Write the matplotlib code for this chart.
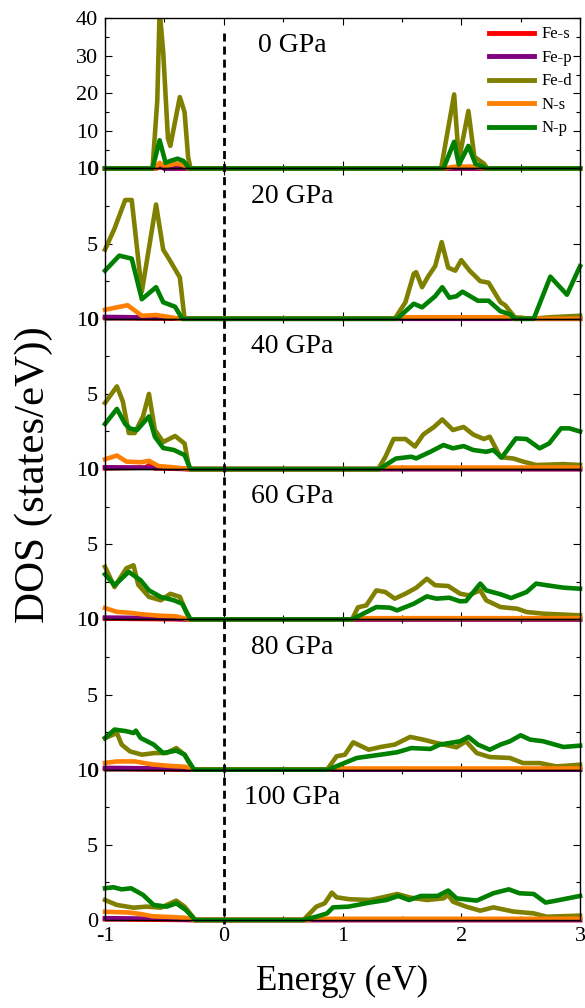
import matplotlib
matplotlib.use("Agg")
import matplotlib.pyplot as plt
import numpy as np
from matplotlib.lines import Line2D
from matplotlib.transforms import Bbox, TransformedBbox, blended_transform_factory
from matplotlib.ticker import MultipleLocator

plt.rcParams["font.family"] = ["Liberation Serif", "DejaVu Serif"]
plt.rcParams["axes.unicode_minus"] = False

PRESSURES = ["0 GPa", "20 GPa", "40 GPa", "60 GPa", "80 GPa", "100 GPa"]
ORBITALS = ["Fe-s", "Fe-p", "Fe-d", "N-s", "N-p"]
COLORS = {"Fe-s": "#ff0000", "Fe-p": "#800080", "Fe-d": "#808000",
          "N-s": "#ff8000", "N-p": "#008000"}

# (energy in eV, DOS), one list per pressure
FE_S = [
    [(-1, 0), (-0.57, 0), (-0.54, 0.4), (-0.5, 0), (3, 0)],
    [(-1, 0.05), (-0.35, 0), (3, 0)],
    [(-1, 0.05), (-0.66, 0.1), (-0.63, 0.25), (-0.58, 0.05), (-0.3, 0), (3, 0)],
    [(-1, 0.05), (-0.3, 0), (3, 0)],
    [(-1, 0.05), (-0.3, 0), (3, 0)],
    [(-1, 0.05), (-0.3, 0), (3, 0)],
]
FE_P = [
    [(-1, 0), (-0.58, 0), (-0.54, 0.8), (-0.5, 0), (3, 0)],
    [(-1, 0.12), (-0.5, 0.08), (-0.35, 0), (3, 0)],
    [(-1, 0.12), (-0.5, 0.08), (-0.3, 0), (3, 0)],
    [(-1, 0.12), (-0.5, 0.08), (-0.3, 0), (3, 0)],
    [(-1, 0.12), (-0.5, 0.08), (-0.28, 0), (3, 0)],
    [(-1, 0.12), (-0.5, 0.08), (-0.26, 0), (3, 0)],
]
FE_D = [
    [(-1, 0), (-0.6, 0), (-0.56, 18), (-0.54, 42), (-0.51, 31), (-0.47, 8), (-0.45, 6),
     (-0.37, 19), (-0.33, 15), (-0.3, 3), (-0.28, 0), (1.83, 0), (1.94, 19.7), (1.98, 2.2),
     (2.06, 15.3), (2.11, 3.1), (2.19, 1.3), (2.22, 0), (3, 0)],
    [(-1, 4.6), (-0.92, 6.0), (-0.83, 7.9), (-0.775, 7.9), (-0.69, 1.8), (-0.57, 7.6),
     (-0.51, 4.6), (-0.455, 3.9), (-0.37, 2.75), (-0.33, 0), (1.44, 0), (1.53, 1.1),
     (1.6, 3.0), (1.62, 3.1), (1.67, 2.1), (1.72, 2.8), (1.78, 3.5), (1.835, 5.1),
     (1.89, 3.4), (1.95, 3.2), (2.0, 3.9), (2.07, 3.2), (2.16, 2.5), (2.23, 2.4),
     (2.33, 1.1), (2.37, 0.9), (2.45, 0.1), (2.6, 0), (2.75, 0.1), (3, 0.2)],
    [(-1, 4.4), (-0.9, 5.5), (-0.85, 4.5), (-0.8, 2.4), (-0.75, 2.4), (-0.68, 3.5),
     (-0.63, 5.0), (-0.58, 2.6), (-0.51, 1.8), (-0.41, 2.2), (-0.33, 1.7), (-0.29, 0),
     (1.3, 0), (1.36, 0.8), (1.43, 2.0), (1.53, 2.0), (1.61, 1.5), (1.68, 2.3), (1.77, 2.8),
     (1.84, 3.3), (1.93, 2.6), (2.02, 2.8), (2.1, 2.3), (2.19, 2.0), (2.24, 2.15),
     (2.33, 0.8), (2.44, 0.7), (2.52, 0.5), (2.63, 0.27), (2.86, 0.33), (3, 0.27)],
    [(-1, 3.5), (-0.92, 2.15), (-0.82, 3.4), (-0.76, 3.6), (-0.72, 2.3), (-0.63, 1.5),
     (-0.53, 1.27), (-0.45, 1.7), (-0.37, 1.5), (-0.29, 0), (1.08, 0), (1.13, 0.8),
     (1.2, 0.93), (1.285, 1.93), (1.36, 1.82), (1.44, 1.38), (1.53, 1.71), (1.62, 2.1),
     (1.71, 2.7), (1.78, 2.27), (1.89, 2.22), (1.99, 1.71), (2.06, 1.6), (2.16, 1.93),
     (2.21, 1.27), (2.33, 0.82), (2.47, 0.71), (2.55, 0.49), (2.69, 0.38), (3, 0.27)],
    [(-1, 2.1), (-0.9, 2.44), (-0.86, 1.67), (-0.79, 1.22), (-0.69, 1.0), (-0.58, 1.11),
     (-0.48, 1.11), (-0.4, 1.44), (-0.33, 1.0), (-0.26, 0), (0.87, 0), (0.95, 0.89),
     (1.02, 1.0), (1.09, 1.82), (1.22, 1.33), (1.32, 1.51), (1.44, 1.67), (1.57, 2.18),
     (1.68, 2.0), (1.79, 1.78), (1.96, 1.49), (2.04, 1.89), (2.13, 1.11), (2.24, 0.84),
     (2.41, 0.78), (2.52, 0.44), (2.66, 0.44), (2.8, 0.22), (3, 0.33)],
    [(-1, 1.33), (-0.9, 1.0), (-0.76, 0.82), (-0.65, 0.89), (-0.53, 0.82), (-0.4, 1.29),
     (-0.33, 0.89), (-0.24, 0), (0.67, 0), (0.78, 0.89), (0.85, 1.11), (0.91, 1.82),
     (0.95, 1.51), (1.06, 1.38), (1.23, 1.33), (1.34, 1.51), (1.46, 1.73), (1.57, 1.49),
     (1.71, 1.33), (1.85, 1.44), (1.89, 1.67), (1.93, 1.22), (2.04, 0.89), (2.16, 0.62),
     (2.27, 0.84), (2.44, 0.56), (2.61, 0.44), (2.72, 0.22), (3, 0.29)],
]
N_S = [
    [(-1, 0), (-0.58, 0), (-0.54, 1.5), (-0.5, 0.5), (-0.4, 1.3), (-0.35, 1.0), (-0.3, 0),
     (1.85, 0), (1.95, 0.5), (2.1, 0.5), (2.2, 0), (3, 0)],
    [(-1, 0.6), (-0.81, 0.9), (-0.69, 0.2), (-0.57, 0.25), (-0.45, 0.1), (-0.38, 0),
     (1.45, 0), (1.5, 0.1), (2.4, 0.1), (2.45, 0), (3, 0)],
    [(-1, 0.65), (-0.9, 0.9), (-0.82, 0.5), (-0.7, 0.45), (-0.63, 0.55), (-0.55, 0.2),
     (-0.4, 0.1), (-0.3, 0), (1.3, 0), (1.35, 0.1), (3, 0.1)],
    [(-1, 0.75), (-0.9, 0.5), (-0.8, 0.45), (-0.7, 0.35), (-0.55, 0.25), (-0.4, 0.2),
     (-0.3, 0), (1.08, 0), (1.12, 0.08), (3, 0.08)],
    [(-1, 0.45), (-0.9, 0.55), (-0.75, 0.55), (-0.6, 0.35), (-0.45, 0.25), (-0.33, 0.2),
     (-0.26, 0), (0.88, 0), (0.92, 0.08), (3, 0.08)],
    [(-1, 0.55), (-0.8, 0.5), (-0.7, 0.4), (-0.6, 0.25), (-0.45, 0.2), (-0.33, 0.15),
     (-0.24, 0), (0.7, 0), (0.75, 0.08), (3, 0.08)],
]
N_P = [
    [(-1, 0), (-0.6, 0), (-0.54, 7.5), (-0.49, 1.5), (-0.45, 2.0), (-0.39, 2.6), (-0.34, 2.0),
     (-0.29, 0), (1.85, 0), (1.94, 7.1), (1.98, 1.0), (2.06, 6.0), (2.12, 1.2), (2.18, 0.5),
     (2.2, 0), (3, 0)],
    [(-1, 3.2), (-0.88, 4.2), (-0.775, 4.0), (-0.69, 1.3), (-0.57, 2.1), (-0.51, 1.1),
     (-0.41, 0.8), (-0.35, 0), (1.46, 0), (1.6, 1.0), (1.67, 0.76), (1.78, 1.5), (1.84, 2.1),
     (1.9, 1.4), (1.96, 1.5), (2.01, 1.8), (2.14, 1.2), (2.23, 1.2), (2.33, 0.5),
     (2.41, 0.3), (2.45, 0), (2.61, 0), (2.75, 2.8), (2.89, 1.6), (3, 3.5)],
    [(-1, 3.0), (-0.9, 4.0), (-0.83, 3.0), (-0.79, 2.7), (-0.73, 2.6), (-0.63, 3.5),
     (-0.58, 2.15), (-0.51, 1.4), (-0.42, 1.27), (-0.33, 0.93), (-0.28, 0), (1.31, 0),
     (1.45, 0.7), (1.58, 0.82), (1.62, 0.71), (1.74, 1.15), (1.85, 1.6), (1.93, 1.38),
     (2.02, 1.53), (2.1, 1.27), (2.21, 1.15), (2.27, 1.27), (2.34, 0.76), (2.46, 2.04),
     (2.55, 2.0), (2.66, 1.38), (2.74, 1.71), (2.84, 2.71), (2.91, 2.71), (3, 2.5)],
    [(-1, 3.0), (-0.92, 2.27), (-0.8, 3.16), (-0.7, 2.6), (-0.63, 1.93), (-0.53, 1.49),
     (-0.42, 1.27), (-0.35, 1.04), (-0.28, 0), (1.08, 0), (1.175, 0.38), (1.285, 0.82),
     (1.4, 0.78), (1.46, 0.6), (1.6, 1.04), (1.71, 1.53), (1.79, 1.38), (1.9, 1.44),
     (1.99, 1.2), (2.04, 1.22), (2.16, 2.38), (2.21, 1.93), (2.33, 1.67), (2.42, 1.42),
     (2.55, 1.82), (2.63, 2.38), (2.72, 2.27), (2.86, 2.11), (3, 2.04)],
    [(-1, 2.1), (-0.92, 2.67), (-0.82, 2.56), (-0.76, 2.44), (-0.74, 2.6), (-0.7, 2.11),
     (-0.59, 1.67), (-0.51, 1.11), (-0.4, 1.27), (-0.33, 1.0), (-0.25, 0), (0.88, 0),
     (0.98, 0.33), (1.12, 0.78), (1.32, 1.0), (1.46, 1.16), (1.58, 1.44), (1.74, 1.38),
     (1.82, 1.67), (1.99, 1.89), (2.06, 2.18), (2.14, 1.67), (2.24, 1.33), (2.33, 1.67),
     (2.41, 1.89), (2.5, 2.29), (2.58, 2.0), (2.69, 1.89), (2.86, 1.51), (3, 1.6)],
    [(-1, 2.11), (-0.93, 2.18), (-0.86, 2.04), (-0.78, 2.11), (-0.68, 1.67), (-0.59, 1.0),
     (-0.48, 0.89), (-0.4, 1.11), (-0.32, 0.67), (-0.24, 0), (0.67, 0), (0.78, 0.22),
     (0.87, 0.44), (0.92, 0.84), (1.05, 0.89), (1.23, 1.16), (1.37, 1.33), (1.47, 1.6),
     (1.56, 1.33), (1.66, 1.6), (1.8, 1.6), (1.89, 1.96), (1.96, 1.44), (2.13, 1.29),
     (2.27, 1.78), (2.4, 2.04), (2.49, 1.78), (2.61, 1.73), (2.71, 1.16), (2.8, 1.29),
     (3, 1.6)],
]
SERIES = {"Fe-s": FE_S, "Fe-p": FE_P, "Fe-d": FE_D, "N-s": N_S, "N-p": N_P}

fig, axes = plt.subplots(6, 1, sharex=True, figsize=(5.85, 10.08), dpi=100)
fig.subplots_adjust(left=0.1795, right=0.9915, top=0.982, bottom=0.0873, hspace=0)

for i, ax in enumerate(axes):
    ax.patch.set_visible(False)
    # let the zero line spill a little below the panel edge
    clip = TransformedBbox(Bbox([[-0.01, -0.04], [1.01, 1.0]]), ax.transAxes)
    for orb in ORBITALS:
        pts = np.array(SERIES[orb][i])
        line, = ax.plot(pts[:, 0], pts[:, 1], color=COLORS[orb], lw=3.3,
                        label=orb, solid_joinstyle="round")
        line.set_clip_box(clip)
    ax.set_xlim(-1, 3)
    if i == 0:
        ax.set_ylim(0, 40)
        ax.yaxis.set_major_locator(MultipleLocator(10))
        ax.yaxis.set_minor_locator(MultipleLocator(5))
    else:
        ax.set_ylim(0, 10)
        ax.yaxis.set_major_locator(MultipleLocator(5))
        ax.yaxis.set_minor_locator(MultipleLocator(2.5))
    ax.xaxis.set_major_locator(MultipleLocator(1))
    ax.xaxis.set_minor_locator(MultipleLocator(0.5))
    ax.tick_params(which="both", direction="in", top=True, right=True, labelsize=16, pad=5)
    ax.tick_params(which="major", length=5, width=0.8)
    ax.tick_params(which="minor", length=3, width=0.8)
    ax.text(0.575, 0.773, PRESSURES[i], transform=blended_transform_factory(ax.transData, ax.transAxes),
            ha="center", va="baseline", fontsize=20)
    for s in ax.spines.values():
        s.set_linewidth(1.0)

leg = axes[0].legend(loc="upper right", bbox_to_anchor=(1.0, 1.0), frameon=False, fontsize=12,
                     handlelength=2.7, labelspacing=0.45, handletextpad=0.4, borderaxespad=0.1)
for h in leg.get_lines():
    h.set_linewidth(3.5)

# Fermi level, one dashed line across all panels
trans = blended_transform_factory(axes[0].transData, fig.transFigure)
fig.add_artist(Line2D([0, 0], [0.967, 0.083], transform=trans, color="black",
                      lw=2.0, linestyle=(0, (2.9, 1.8))))

fig.text(34 / 585, 0.529, "DOS (states/eV))", rotation=90, ha="center", va="center", fontsize=31)
fig.text(0.5855, 0.018, "Energy (eV)", ha="center", va="baseline", fontsize=25)

fig.savefig("out.png", dpi=100)
